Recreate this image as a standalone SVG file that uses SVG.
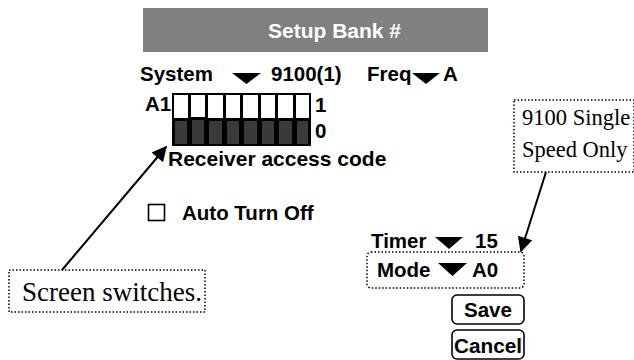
<svg xmlns="http://www.w3.org/2000/svg" width="634" height="360" viewBox="0 0 634 360">
<style>
.b{font-family:"Liberation Sans",Arial,sans-serif;font-weight:bold;font-size:20.5px;fill:#000}
.w{fill:#fff}
.t{font-family:"Liberation Serif","Times New Roman",serif;font-size:22.5px;fill:#000}
.dot{fill:#fff;stroke:#000;stroke-width:1.5;stroke-dasharray:1.5 2}
.btn{fill:#fff;stroke:#000;stroke-width:1.6}
.tri{fill:#000}
</style>
<defs>
<marker id="ah" viewBox="0 0 10 10" refX="9" refY="5" markerWidth="8.5" markerHeight="7.5" orient="auto" markerUnits="strokeWidth">
<path d="M0,0 L10,5 L0,10 z" fill="#000"/>
</marker>
</defs>
<rect width="634" height="360" fill="#fff"/>
<g id="header">
<rect x="143" y="8" width="345" height="44" fill="#808080"/>
<text x="334.5" y="38" class="b w" text-anchor="middle" style="font-size:21px">Setup Bank #</text>
</g>
<g id="system">
<text x="140" y="81" class="b">System</text>
<path class="tri" d="M232,73 L261,73 L246.5,84 z"/>
<text x="271" y="81" class="b">9100(1)</text>
</g>
<g id="freq">
<text x="367" y="81" class="b">Freq</text>
<path class="tri" d="M412,73 L440,73 L426,84 z"/>
<text x="443" y="81" class="b">A</text>
</g>
<g id="switches">
<text x="145" y="111" class="b">A1</text>
<rect x="172" y="93" width="139" height="53" fill="#000"/>
<g fill="#fff">
<rect x="174" y="95" width="14" height="23"/>
<rect x="191" y="95" width="14" height="22"/>
<rect x="208" y="95" width="15" height="23"/>
<rect x="226" y="95" width="14" height="23"/>
<rect x="243" y="95" width="15" height="23"/>
<rect x="261" y="95" width="14" height="23"/>
<rect x="278" y="95" width="15" height="23"/>
<rect x="296" y="95" width="13" height="23"/>
</g>
<g fill="#3a3a3a">
<rect x="175" y="121" width="12" height="23"/>
<rect x="192" y="120" width="12" height="24"/>
<rect x="209" y="121" width="13" height="23"/>
<rect x="227" y="121" width="12" height="23"/>
<rect x="244" y="121" width="13" height="23"/>
<rect x="262" y="121" width="12" height="23"/>
<rect x="279" y="121" width="13" height="23"/>
<rect x="297" y="121" width="11" height="23"/>
</g>
<text x="315" y="112" class="b">1</text>
<text x="315" y="138" class="b">0</text>
<text x="168" y="166" class="b" style="font-size:21px">Receiver access code</text>
</g>
<g id="autoturnoff">
<rect x="148.5" y="204.5" width="16" height="16" fill="#fff" stroke="#000" stroke-width="1.6"/>
<text x="182" y="220" class="b">Auto Turn Off</text>
</g>
<g id="timer">
<text x="371" y="248" class="b">Timer</text>
<path class="tri" d="M435,237 L463,237 L449,249 z"/>
<text x="475" y="248" class="b">15</text>
</g>
<g id="mode">
<rect x="367" y="252" width="157" height="36" rx="4" class="dot"/>
<text x="377" y="277" class="b">Mode</text>
<path class="tri" d="M438,263 L467,263 L452.5,276 z"/>
<text x="472" y="277" class="b">A0</text>
</g>
<g id="save">
<rect x="452" y="295" width="72" height="29" rx="5" class="btn"/>
<text x="488" y="317" class="b" text-anchor="middle">Save</text>
</g>
<g id="cancel">
<rect x="452" y="330" width="72" height="29" rx="5" class="btn"/>
<text x="488" y="353" class="b" text-anchor="middle" textLength="68" lengthAdjust="spacingAndGlyphs">Cancel</text>
</g>
<g id="note-screen">
<rect x="9" y="270" width="196" height="42" class="dot"/>
<text x="22" y="301" class="t" style="font-size:27px">Screen switches.</text>
</g>
<g id="note-9100">
<rect x="514" y="100" width="120" height="72" class="dot"/>
<text x="522" y="125" class="t">9100 Single</text>
<text x="522" y="157" class="t">Speed Only</text>
</g>
<g id="connectors" stroke="#000" stroke-width="2" fill="none">
<line x1="62" y1="270" x2="166" y2="147" marker-end="url(#ah)"/>
<line x1="546" y1="172" x2="521" y2="251" marker-end="url(#ah)"/>
</g>
</svg>
